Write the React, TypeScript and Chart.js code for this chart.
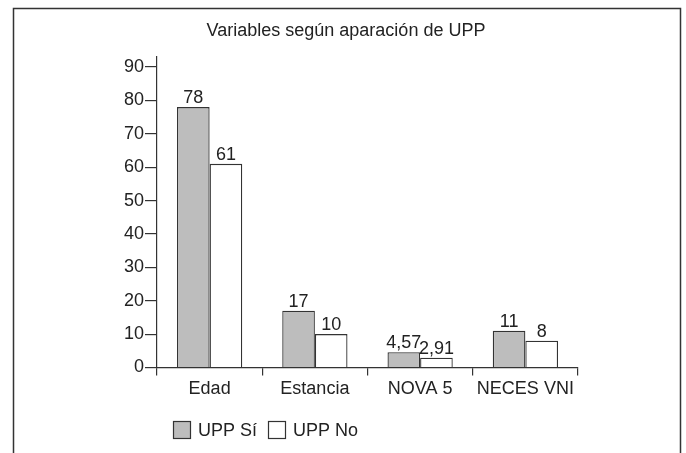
import React, { useEffect, useRef } from "react";
import { Chart, registerables } from "chart.js";

Chart.register(...registerables);

const categories = ["Edad", "Estancia", "NOVA 5", "NECES VNI"];
const seriesNames = ["UPP Sí", "UPP No"];
const valuesSi = [78, 17, 4.57, 11];
const valuesNo = [61, 10, 2.91, 8];
const labelsSi = ["78", "17", "4,57", "11"];
const labelsNo = ["61", "10", "2,91", "8"];
const yTicks = [0, 10, 20, 30, 40, 50, 60, 70, 80, 90];
const chartTitle = "Variables según aparación de UPP";

const FONT = "'Liberation Sans', Arial, Helvetica, sans-serif";
const INK = "#222";
const FS = 18;

const decorPlugin = {
  id: "decor",
  afterDraw(chart: any) {
    const ctx = chart.ctx;
    ctx.save();
    // frame
    ctx.strokeStyle = "#333";
    ctx.lineWidth = 1.5;
    ctx.beginPath();
    ctx.moveTo(13.5, 470);
    ctx.lineTo(13.5, 8.5);
    ctx.lineTo(680.5, 8.5);
    ctx.lineTo(680.5, 470);
    ctx.stroke();
    // title
    ctx.fillStyle = INK;
    ctx.font = `${FS}px ${FONT}`;
    ctx.textAlign = "center";
    ctx.textBaseline = "alphabetic";
    ctx.fillText(chartTitle, 346, 36);
    // value labels
    const allLabels = [labelsSi, labelsNo];
    chart.data.datasets.forEach((ds: any, di: number) => {
      const meta = chart.getDatasetMeta(di);
      meta.data.forEach((bar: any, i: number) => {
        ctx.fillText(allLabels[di][i], bar.x, bar.y - 4);
      });
    });
    // legend
    ctx.textAlign = "left";
    ctx.textBaseline = "middle";
    const legendX = [173, 268];
    chart.data.datasets.forEach((ds: any, di: number) => {
      const x = legendX[di];
      ctx.fillStyle = ds.backgroundColor;
      ctx.fillRect(x, 421, 18, 18);
      ctx.strokeStyle = "#333";
      ctx.lineWidth = 1.2;
      ctx.strokeRect(x + 0.5, 421.5, 17, 17);
      ctx.fillStyle = INK;
      ctx.fillText(ds.label, x + 25, 431);
    });
    ctx.restore();
  },
};

export default function App() {
  const ref = useRef<HTMLCanvasElement | null>(null);
  useEffect(() => {
    if (!ref.current) return;
    const chart = new Chart(ref.current, {
      type: "bar",
      data: {
        labels: categories,
        datasets: [
          {
            label: seriesNames[0],
            data: valuesSi,
            backgroundColor: "#bdbdbd",
            borderColor: "#333",
            borderWidth: 1.3,
          },
          {
            label: seriesNames[1],
            data: valuesNo,
            backgroundColor: "#ffffff",
            borderColor: "#333",
            borderWidth: 1.3,
          },
        ],
      },
      options: {
        animation: false,
        responsive: false,
        maintainAspectRatio: false,
        events: [],
        layout: { padding: { left: 20, right: 108, top: 57, bottom: 55 } },
        datasets: { bar: { categoryPercentage: 0.62, barPercentage: 1 } },
        plugins: {
          legend: { display: false },
          title: { display: false },
          tooltip: { enabled: false },
        },
        scales: {
          x: {
            offset: true,
            grid: {
              offset: true,
              drawOnChartArea: false,
              drawTicks: true,
              tickLength: 8,
              color: "#333",
              lineWidth: 1.2,
            },
            border: { display: true, color: "#333", width: 1.2 },
            ticks: { color: INK, font: { family: FONT, size: FS }, padding: 3 },
            afterFit(scale: any) {
              scale.height = 30.5;
            },
          },
          y: {
            min: 0,
            max: 93,
            ticks: {
              stepSize: 10,
              color: INK,
              font: { family: FONT, size: FS },
              padding: 1,
            },
            afterBuildTicks(scale: any) {
              scale.ticks = yTicks.map((v) => ({ value: v }));
            },
            grid: {
              drawOnChartArea: false,
              drawTicks: true,
              tickLength: 12,
              color: "#333",
              lineWidth: 1.2,
            },
            border: { display: true, color: "#333", width: 1.2 },
            afterFit(scale: any) {
              scale.width = 137;
            },
          },
        },
      },
      plugins: [decorPlugin],
    });
    return () => chart.destroy();
  }, []);
  return (
    <div style={{ position: "absolute", left: 0, top: 0, width: 686, height: 453, background: "#fff" }}>
      <canvas ref={ref} width={686} height={453} style={{ display: "block" }} />
    </div>
  );
}
